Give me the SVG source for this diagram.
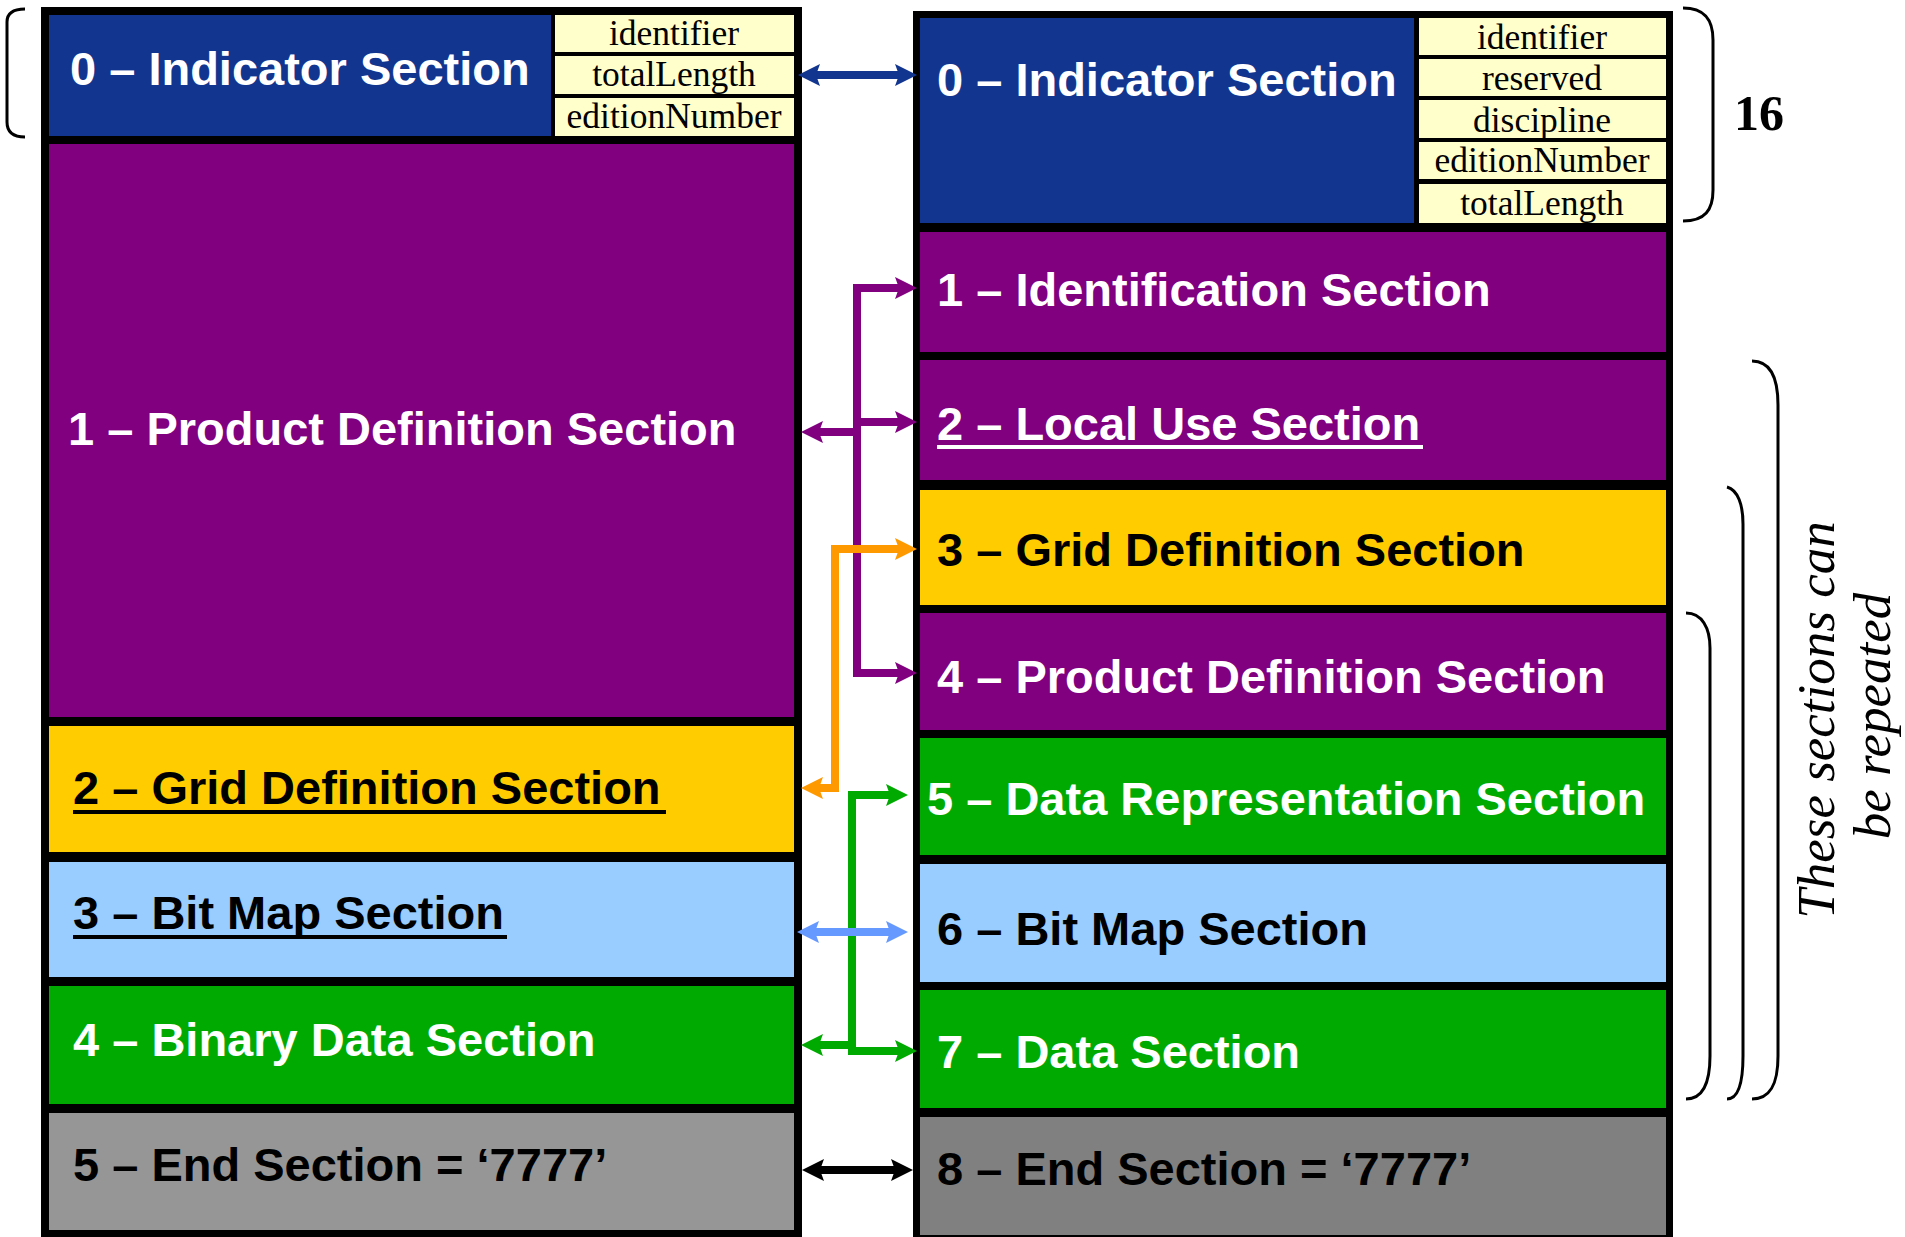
<svg xmlns="http://www.w3.org/2000/svg" width="1905" height="1237" viewBox="0 0 1905 1237">
<style>
.t{font-family:"Liberation Sans",Arial,sans-serif;font-weight:bold;font-size:47px}
.w{fill:#fff}
.k{fill:#000}
.f{font-family:"Liberation Serif","Times New Roman",serif;font-size:35.5px;fill:#000;text-anchor:middle}
.fld{fill:#ffffcc}
.blue{fill:#12368f}
.pur{fill:#800080}
.yel{fill:#ffcc00}
.lb{fill:#99ccff}
.grn{fill:#00aa00}
.brace{fill:none;stroke:#000;stroke-width:3}
.c{fill:none;stroke-width:8;stroke-linejoin:miter}
</style>
<defs>
<marker id="m-blue" viewBox="0 0 22 22" markerWidth="22" markerHeight="22" refX="4" refY="11" orient="auto-start-reverse" markerUnits="userSpaceOnUse"><path d="M0,0 L22,11 L0,22 L4,11 z" fill="#12368f"/></marker>
<marker id="m-pur" viewBox="0 0 22 22" markerWidth="22" markerHeight="22" refX="4" refY="11" orient="auto-start-reverse" markerUnits="userSpaceOnUse"><path d="M0,0 L22,11 L0,22 L4,11 z" fill="#800080"/></marker>
<marker id="m-org" viewBox="0 0 22 22" markerWidth="22" markerHeight="22" refX="4" refY="11" orient="auto-start-reverse" markerUnits="userSpaceOnUse"><path d="M0,0 L22,11 L0,22 L4,11 z" fill="#ff9900"/></marker>
<marker id="m-grn" viewBox="0 0 22 22" markerWidth="22" markerHeight="22" refX="4" refY="11" orient="auto-start-reverse" markerUnits="userSpaceOnUse"><path d="M0,0 L22,11 L0,22 L4,11 z" fill="#00aa00"/></marker>
<marker id="m-lb" viewBox="0 0 22 22" markerWidth="22" markerHeight="22" refX="4" refY="11" orient="auto-start-reverse" markerUnits="userSpaceOnUse"><path d="M0,0 L22,11 L0,22 L4,11 z" fill="#6699ff"/></marker>
<marker id="m-blk" viewBox="0 0 22 22" markerWidth="22" markerHeight="22" refX="4" refY="11" orient="auto-start-reverse" markerUnits="userSpaceOnUse"><path d="M0,0 L22,11 L0,22 L4,11 z" fill="#000"/></marker>
</defs>
<rect width="1905" height="1237" fill="#fff"/>

<g id="left-message">
<rect x="41" y="7" width="761" height="1230" fill="#000"/>
<g id="L0-indicator">
<rect class="blue" x="49" y="15" width="502" height="121"/>
<text class="t w" x="70" y="85">0 – Indicator Section</text>
<rect class="fld" x="555" y="15" width="239" height="37"/>
<rect class="fld" x="555" y="56" width="239" height="38"/>
<rect class="fld" x="555" y="98" width="239" height="38"/>
<text class="f" x="674" y="45">identifier</text>
<text class="f" x="674" y="86">totalLength</text>
<text class="f" x="674" y="128">editionNumber</text>
</g>
<g id="L1-product">
<rect class="pur" x="49" y="144" width="745" height="573"/>
<text class="t w" x="68" y="445">1 – Product Definition Section</text>
</g>
<g id="L2-grid">
<rect class="yel" x="49" y="726" width="745" height="126"/>
<text class="t k" x="73" y="804">2 – Grid Definition Section</text>
<rect x="73" y="810" width="593" height="4" fill="#000"/>
</g>
<g id="L3-bitmap">
<rect class="lb" x="49" y="862" width="745" height="115"/>
<text class="t k" x="73" y="929">3 – Bit Map Section</text>
<rect x="73" y="935" width="434" height="4" fill="#000"/>
</g>
<g id="L4-binary">
<rect class="grn" x="49" y="986" width="745" height="118"/>
<text class="t w" x="73" y="1056">4 – Binary Data Section</text>
</g>
<g id="L5-end">
<rect x="49" y="1113" width="745" height="117" fill="#969696"/>
<text class="t k" x="73" y="1181">5 – End Section = ‘7777’</text>
</g>
</g>

<g id="right-message">
<rect x="913" y="11" width="760" height="1226" fill="#000"/>
<g id="R0-indicator">
<rect class="blue" x="920" y="18" width="494" height="205"/>
<text class="t w" x="937" y="96">0 – Indicator Section</text>
<rect class="fld" x="1419" y="18" width="247" height="37"/>
<rect class="fld" x="1419" y="59" width="247" height="37"/>
<rect class="fld" x="1419" y="100" width="247" height="38"/>
<rect class="fld" x="1419" y="142" width="247" height="37"/>
<rect class="fld" x="1419" y="184" width="247" height="39"/>
<text class="f" x="1542" y="49">identifier</text>
<text class="f" x="1542" y="90">reserved</text>
<text class="f" x="1542" y="132">discipline</text>
<text class="f" x="1542" y="172">editionNumber</text>
<text class="f" x="1542" y="215">totalLength</text>
</g>
<g id="R1-identification">
<rect class="pur" x="920" y="232" width="746" height="120"/>
<text class="t w" x="937" y="306">1 – Identification Section</text>
</g>
<g id="R2-localuse">
<rect class="pur" x="920" y="360" width="746" height="120"/>
<text class="t w" x="937" y="440">2 – Local Use Section</text>
<rect x="937" y="445" width="486" height="4" fill="#fff"/>
</g>
<g id="R3-grid">
<rect class="yel" x="920" y="490" width="746" height="115"/>
<text class="t k" x="937" y="566">3 – Grid Definition Section</text>
</g>
<g id="R4-product">
<rect class="pur" x="920" y="613" width="746" height="117"/>
<text class="t w" x="937" y="693">4 – Product Definition Section</text>
</g>
<g id="R5-datarep">
<rect class="grn" x="920" y="738" width="746" height="117"/>
<text class="t w" x="927" y="815">5 – Data Representation Section</text>
</g>
<g id="R6-bitmap">
<rect class="lb" x="920" y="864" width="746" height="118"/>
<text class="t k" x="937" y="945">6 – Bit Map Section</text>
</g>
<g id="R7-data">
<rect class="grn" x="920" y="990" width="746" height="118"/>
<text class="t w" x="937" y="1068">7 – Data Section</text>
</g>
<g id="R8-end">
<rect x="920" y="1117" width="746" height="118" fill="#808080"/>
<text class="t k" x="937" y="1185">8 – End Section = ‘7777’</text>
</g>
</g>

<g id="connectors">
<path class="c" stroke="#12368f" d="M816,75 H899" marker-start="url(#m-blue)" marker-end="url(#m-blue)"/>
<path class="c" stroke="#800080" d="M857,284 V677"/>
<path class="c" stroke="#800080" d="M853,288 H899" marker-end="url(#m-pur)"/>
<path class="c" stroke="#800080" d="M853,422 H899" marker-end="url(#m-pur)"/>
<path class="c" stroke="#800080" d="M853,673 H899" marker-end="url(#m-pur)"/>
<path class="c" stroke="#800080" d="M857,432 H819" marker-end="url(#m-pur)"/>
<path class="c" stroke="#ff9900" d="M819,788 H835 V549 H899" marker-start="url(#m-org)" marker-end="url(#m-org)"/>
<path class="c" stroke="#00aa00" d="M890,795 H852 V1051 H899" marker-start="url(#m-grn)" marker-end="url(#m-grn)"/>
<path class="c" stroke="#00aa00" d="M852,1045 H819" marker-end="url(#m-grn)"/>
<path class="c" stroke="#6699ff" d="M815,932 H890" marker-start="url(#m-lb)" marker-end="url(#m-lb)"/>
<path class="c" stroke="#000" stroke-width="7" d="M820,1170 H895" marker-start="url(#m-blk)" marker-end="url(#m-blk)"/>
</g>

<g id="annotations">
<path class="brace" d="M25,9 C12,9 7,14 7,22 V122 C7,131 12,137 25,137"/>
<path class="brace" d="M1683,8 C1705,8 1713,20 1713,40 V190 C1713,210 1705,221 1683,221"/>
<text x="1734" y="130" style="font-family:'Liberation Serif','Times New Roman',serif;font-weight:bold;font-size:50px">16</text>
<path class="brace" d="M1752,361 C1772,361 1778,380 1778,405 V1056 C1778,1085 1770,1099 1752,1099"/>
<path class="brace" d="M1727,487 C1738,490 1743,505 1743,524 V1056 C1743,1085 1738,1099 1727,1099"/>
<path class="brace" d="M1686,613 C1702,613 1710,628 1710,648 V1056 C1710,1085 1702,1099 1686,1099"/>
<g style="font-family:'Liberation Serif','Times New Roman',serif;font-style:italic;font-size:53px" text-anchor="middle">
<text transform="translate(1834,720) rotate(-90)">These sections can</text>
<text transform="translate(1890,716) rotate(-90)">be repeated</text>
</g>
</g>
</svg>
